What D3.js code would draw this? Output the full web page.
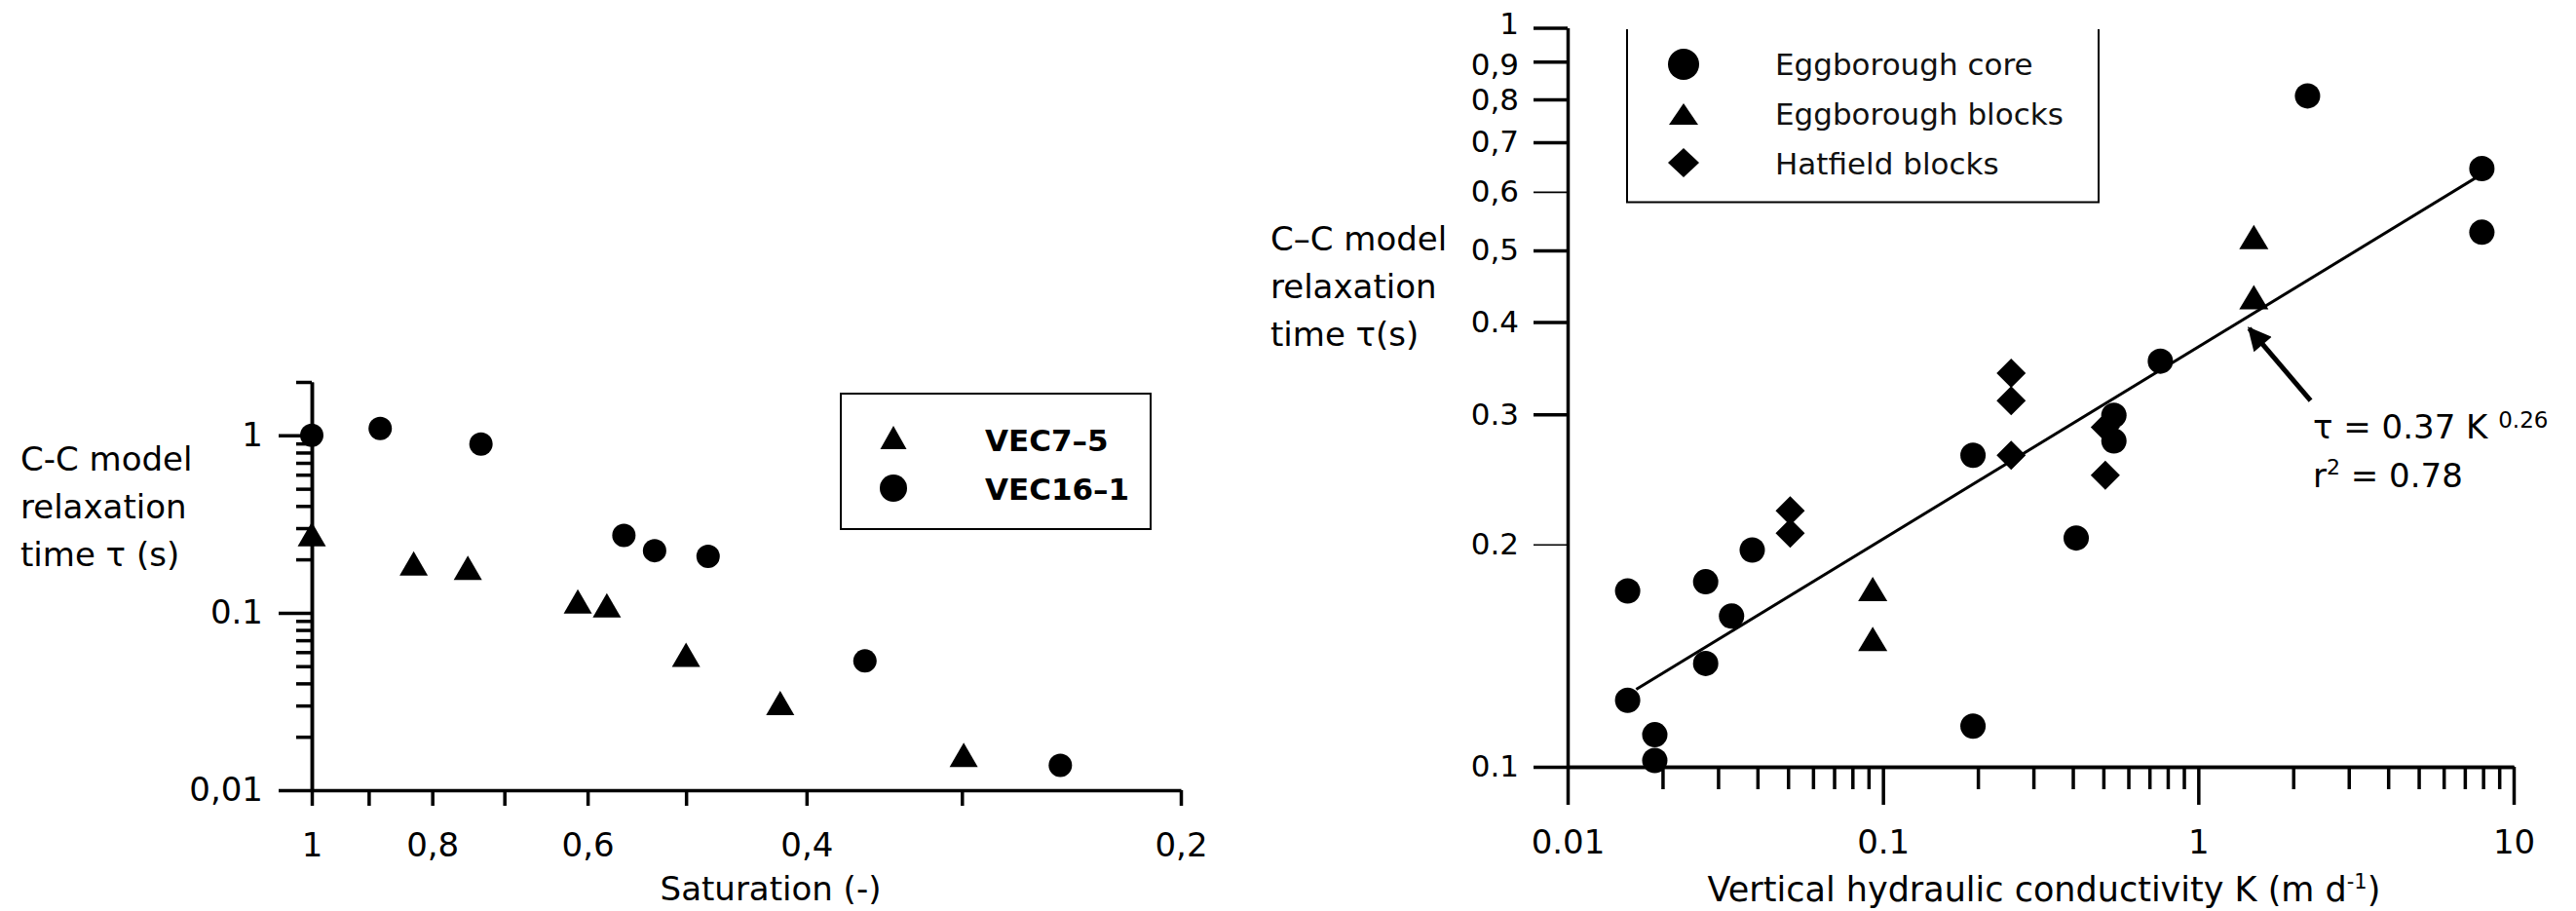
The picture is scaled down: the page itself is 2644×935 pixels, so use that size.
<!DOCTYPE html>
<html>
<head>
<meta charset="utf-8">
<script src="https://cdnjs.cloudflare.com/ajax/libs/d3/7.8.5/d3.min.js"></script>
<style>
  body { margin: 0; background: #fff; }
  svg { display: block; font-family: "DejaVu Sans", Verdana, sans-serif; }
  .axis path.domain, .axis line { stroke: #000; stroke-width: 3.5; }
  .axis text { fill: #000; font-size: 34px; font-family: "DejaVu Sans", Verdana, sans-serif; }
  .axis.ytight text { font-size: 31px; }
  .title { font-size: 34px; fill: #000; }
</style>
</head>
<body>
<svg width="2644" height="935"></svg>
<script>
// ---- left panel: tau vs saturation ----
var leftSeries = ["VEC7–5", "VEC16–1"];
var satTri  = [1.0, 0.828, 0.749, 0.611, 0.579, 0.500, 0.420, 0.299];
var tauTri  = [0.277, 0.190, 0.179, 0.116, 0.110, 0.058, 0.031, 0.0158];
var satCirc = [1.0, 0.881, 0.731, 0.561, 0.530, 0.480, 0.359, 0.250];
var tauCirc = [1.0, 1.094, 0.892, 0.273, 0.224, 0.208, 0.0535, 0.0138];
var satTicks  = [1, 0.9, 0.8, 0.7, 0.6, 0.5, 0.4, 0.3, 0.2];
var satLabels = ["1", "", "0,8", "", "0,6", "", "0,4", "", "0,2"];
var tauTicksL  = [0.01, 0.1, 1];
var tauLabelsL = ["0,01", "0.1", "1"];

// ---- right panel: tau vs K ----
var rightSeries = ["Eggborough core", "Eggborough blocks", "Hatfield blocks"];
var coreK   = [0.0155, 0.0155, 0.0189, 0.0189, 0.0274, 0.0274, 0.0331, 0.0385, 0.193, 0.193, 0.41, 0.54, 0.54, 0.758, 2.22, 7.93, 7.93];
var coreTau = [0.173, 0.123, 0.1105, 0.102, 0.178, 0.138, 0.160, 0.1965, 0.264, 0.1135, 0.204, 0.299, 0.276, 0.354, 0.809, 0.645, 0.529];
var blockK   = [0.0928, 0.0928, 1.50, 1.50];
var blockTau = [0.174, 0.149, 0.521, 0.432];
var hatK   = [0.0508, 0.0508, 0.255, 0.255, 0.255, 0.507, 0.507];
var hatTau = [0.222, 0.207, 0.341, 0.313, 0.264, 0.288, 0.248];
var kTicks  = [0.01, 0.1, 1, 10];
var kLabels = ["0.01", "0.1", "1", "10"];
var tauLabelsR = ["0.1", "0.2", "0.3", "0.4", "0,5", "0,6", "0,7", "0,8", "0,9", "1"];
var fitA = 0.37, fitB = 0.26, fitRange = [0.0165, 7.6];
var arrowFrom = [2.27, 0.313], arrowTo = [1.45, 0.392];

var svg = d3.select("svg");

function tri(w, h) { return "M0," + (-h / 2) + "L" + (w / 2) + "," + (h / 2) + "L" + (-w / 2) + "," + (h / 2) + "Z"; }
function dia(w, h) { return "M0," + (-h / 2) + "L" + (w / 2) + ",0L0," + (h / 2) + "L" + (-w / 2) + ",0Z"; }
function cleanAxis(g) { g.attr("font-size", null).attr("font-family", null); }

// ================= left chart =================
var xL = d3.scaleLog().domain([1, 0.2]).range([320, 1212]);
var yL = d3.scaleLog().domain([0.01, 2]).range([811, 392]);
var gl = svg.append("g");

var minorL = yL.ticks().filter(function(d) { return tauTicksL.indexOf(d) < 0; });
gl.append("g").attr("class", "axis").attr("transform", "translate(320,0)")
  .call(d3.axisLeft(yL).tickValues(minorL).tickSize(16).tickSizeOuter(0).tickFormat(""))
  .call(cleanAxis);
gl.append("g").attr("class", "axis").attr("transform", "translate(320,0)")
  .call(d3.axisLeft(yL).tickValues(tauTicksL).tickSize(34).tickSizeOuter(0).tickPadding(16)
    .tickFormat(function(d, i) { return tauLabelsL[i]; }))
  .call(cleanAxis);
gl.append("g").attr("class", "axis").attr("transform", "translate(0,811)")
  .call(d3.axisBottom(xL).tickValues(satTicks).tickSize(16).tickSizeOuter(0).tickPadding(28)
    .tickFormat(function(d, i) { return satLabels[i]; }))
  .call(cleanAxis);

gl.selectAll(".ptri").data(satTri).enter().append("path")
  .attr("d", tri(29, 25))
  .attr("transform", function(d, i) { return "translate(" + xL(d) + "," + yL(tauTri[i]) + ")"; });
gl.selectAll(".pcirc").data(satCirc).enter().append("circle")
  .attr("r", 12)
  .attr("cx", function(d) { return xL(d); })
  .attr("cy", function(d, i) { return yL(tauCirc[i]); });

var ytl = gl.append("text").attr("class", "title").attr("x", 21);
["C-C model", "relaxation", "time \u03c4 (s)"].forEach(function(s, i) {
  ytl.append("tspan").attr("x", 21).attr("y", 483 + i * 49).text(s);
});
gl.append("text").attr("class", "title").attr("x", 791).attr("y", 924)
  .attr("text-anchor", "middle").text("Saturation (-)");

// legend
var lgl = gl.append("g");
lgl.append("rect").attr("x", 863).attr("y", 404).attr("width", 318).attr("height", 139)
  .attr("fill", "none").attr("stroke", "#000").attr("stroke-width", 2);
lgl.append("path").attr("d", tri(27, 24)).attr("transform", "translate(917,449)");
lgl.append("circle").attr("r", 14).attr("cx", 917).attr("cy", 501);
lgl.selectAll(".lt").data(leftSeries).enter().append("text")
  .attr("x", 1011).attr("y", function(d, i) { return 452 + i * 50; })
  .attr("dy", "0.36em").attr("font-size", 31).attr("font-weight", "bold").text(function(d) { return d; });

// ================= right chart =================
var xR = d3.scaleLog().domain([0.01, 10]).range([1609, 2580]);
var yR = d3.scaleLog().domain([0.1, 1]).range([787, 28.6]);
var gr = svg.append("g");

var minorR = xR.ticks().filter(function(d) { return kTicks.indexOf(d) < 0; });
gr.append("g").attr("class", "axis").attr("transform", "translate(0,787)")
  .call(d3.axisBottom(xR).tickValues(minorR).tickSize(23).tickSizeOuter(0).tickFormat(""))
  .call(cleanAxis);
gr.append("g").attr("class", "axis").attr("transform", "translate(0,787)")
  .call(d3.axisBottom(xR).tickValues(kTicks).tickSize(39).tickSizeOuter(0).tickPadding(26)
    .tickFormat(function(d, i) { return kLabels[i]; }))
  .call(cleanAxis);
var yAxR = gr.append("g").attr("class", "axis ytight").attr("transform", "translate(1609,0)")
  .call(d3.axisLeft(yR).tickValues(yR.ticks()).tickSize(35).tickSizeOuter(0).tickPadding(15)
    .tickFormat(function(d, i) { return tauLabelsR[i]; }))
  .call(cleanAxis);
yAxR.selectAll(".tick line").filter(function(d) { return d === 0.6 || d === 0.2; })
  .style("stroke-width", 1.6);
yAxR.selectAll(".tick text").filter(function(d) { return d === 1; }).attr("dy", "0.18em");
yAxR.selectAll(".tick text").filter(function(d) { return d > 0.85 && d < 0.95; }).attr("dy", "0.42em");

// fit line
var fitPts = fitRange.map(function(k) { return [k, fitA * Math.pow(k, fitB)]; });
gr.append("path")
  .attr("d", d3.line().x(function(d) { return xR(d[0]); }).y(function(d) { return yR(d[1]); })(fitPts))
  .attr("stroke", "#000").attr("stroke-width", 3).attr("fill", "none");

gr.selectAll(".rc").data(coreK).enter().append("circle")
  .attr("r", 13)
  .attr("cx", function(d) { return xR(d); })
  .attr("cy", function(d, i) { return yR(coreTau[i]); });
gr.selectAll(".rt").data(blockK).enter().append("path")
  .attr("d", tri(30, 25))
  .attr("transform", function(d, i) { return "translate(" + xR(d) + "," + yR(blockTau[i]) + ")"; });
gr.selectAll(".rd").data(hatK).enter().append("path")
  .attr("d", dia(30, 30))
  .attr("transform", function(d, i) { return "translate(" + xR(d) + "," + yR(hatTau[i]) + ")"; });

// arrow + equation
svg.append("defs").append("marker").attr("id", "ah")
  .attr("viewBox", "0 0 10 10").attr("refX", 9).attr("refY", 5)
  .attr("markerWidth", 30).attr("markerHeight", 24).attr("markerUnits", "userSpaceOnUse")
  .attr("orient", "auto")
  .append("path").attr("d", "M0,0L10,5L0,10Z").attr("fill", "#000");
gr.append("line")
  .attr("x1", xR(arrowFrom[0])).attr("y1", yR(arrowFrom[1]))
  .attr("x2", xR(arrowTo[0])).attr("y2", yR(arrowTo[1]))
  .attr("stroke", "#000").attr("stroke-width", 5).attr("marker-end", "url(#ah)");

var eq = gr.append("text").attr("x", 2374).attr("y", 450).attr("font-size", 34);
eq.append("tspan").text("\u03c4 = 0.37 K ");
eq.append("tspan").attr("font-size", 23).attr("dy", -11).text(" 0.26");
var r2 = gr.append("text").attr("x", 2374).attr("y", 500).attr("font-size", 34);
r2.append("tspan").text("r");
r2.append("tspan").attr("font-size", 22).attr("dy", -13).text("2");
r2.append("tspan").attr("dy", 13).text(" = 0.78");

var ytr = gr.append("text").attr("class", "title");
["C\u2013C model", "relaxation", "time \u03c4(s)"].forEach(function(s, i) {
  ytr.append("tspan").attr("x", 1304).attr("y", 257 + i * 49).text(s);
});
var xtr = gr.append("text").attr("class", "title").attr("x", 2098).attr("y", 925)
  .attr("text-anchor", "middle").attr("font-size", 35).style("font-size", "35px");
xtr.append("tspan").text("Vertical hydraulic conductivity K (m d");
xtr.append("tspan").attr("font-size", 21).style("font-size", "21px").attr("dy", -13).text("-1");
xtr.append("tspan").attr("dy", 13).text(")");

// legend (open at top)
var lgr = gr.append("g");
lgr.append("path").attr("d", "M1670,30V207.5H2154V30")
  .attr("fill", "none").attr("stroke", "#000").attr("stroke-width", 2);
lgr.append("circle").attr("r", 16).attr("cx", 1728).attr("cy", 66);
lgr.append("path").attr("d", tri(30, 22)).attr("transform", "translate(1728,117)");
lgr.append("path").attr("d", dia(32, 30)).attr("transform", "translate(1728,167)");
lgr.selectAll(".lr").data(rightSeries).enter().append("text")
  .attr("x", 1822).attr("y", function(d, i) { return 66 + i * 51; })
  .attr("dy", "0.36em").attr("font-size", 31).attr("fill", "#111").text(function(d) { return d; });
</script>
</body>
</html>
